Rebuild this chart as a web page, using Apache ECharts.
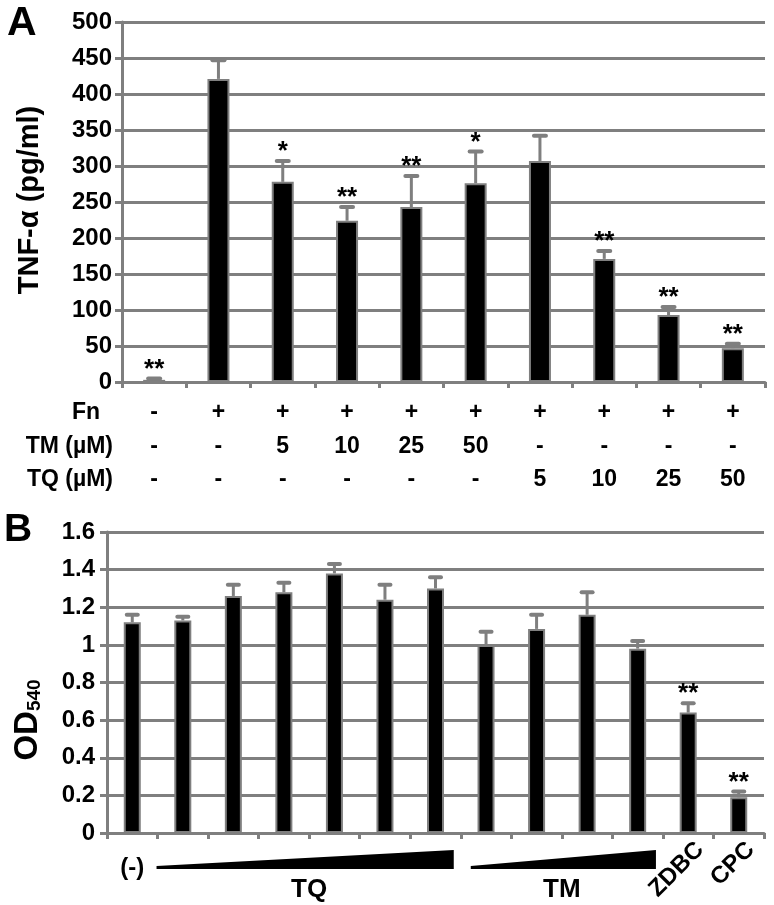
<!DOCTYPE html>
<html><head><meta charset="utf-8">
<script src="https://cdn.jsdelivr.net/npm/echarts/dist/echarts.min.js"></script>
<style>html,body{margin:0;padding:0;background:#fff}#c{width:774px;height:905px}</style>
</head><body><div id="c"></div>
<script>
// ---------- Panel A data ----------
const catsA = ['Control','Fn','Fn+TM5','Fn+TM10','Fn+TM25','Fn+TM50','Fn+TQ5','Fn+TQ10','Fn+TQ25','Fn+TQ50'];
const rowLabelsA = ['Fn','TM (µM)','TQ (µM)'];
const fnRow = ['-','+','+','+','+','+','+','+','+','+'];
const tmRow = ['-','-','5','10','25','50','-','-','-','-'];
const tqRow = ['-','-','-','-','-','-','5','10','25','50'];
const tnfMean = [3,421,278,224,243,276,307,171,93,47];
const tnfErr  = [2,26,29,19,43,44,35,11,11,6];
const tnfStars = ['**','','*','**','**','*','','**','**','**'];
const yAxisA = {min:0, max:500, interval:50, title:'TNF-α (pg/ml)'};

// ---------- Panel B data ----------
const catsB = ['(-)','TQ1','TQ2','TQ3','TQ4','TQ5','TQ6','TM1','TM2','TM3','TM4','ZDBC','CPC'];
const odMean = [1.12,1.13,1.26,1.28,1.38,1.24,1.30,1.00,1.085,1.16,0.98,0.64,0.19];
const odErr  = [0.04,0.02,0.06,0.05,0.05,0.08,0.06,0.07,0.075,0.12,0.04,0.05,0.03];
const odStars = ['','','','','','','','','','','','**','**'];
const groupsB = [{name:'TQ', from:1, to:6}, {name:'TM', from:7, to:10}];
const rotatedLabelsB = ['ZDBC','CPC'];
const yAxisB = {min:0, max:1.6, interval:0.2};

const GRAY = '#7f7f7f';
const FONT = '"Liberation Sans", Arial, sans-serif';

const chart = echarts.init(document.getElementById('c'), null, {renderer:'canvas'});

function errSeries(xi, yi, means, errs, stars, capW){
  return {
    type:'custom', xAxisIndex:xi, yAxisIndex:yi, z:5,
    data: means.map((m,i)=>[i, m, m+errs[i]]),
    renderItem:(params, api)=>{
      const b = api.coord([api.value(0), api.value(1)]);
      const t = api.coord([api.value(0), api.value(2)]);
      const ch = [
        {type:'line', shape:{x1:b[0],y1:b[1],x2:t[0],y2:t[1]}, style:{stroke:GRAY, lineWidth:3}},
        {type:'line', shape:{x1:t[0]-capW/2,y1:t[1],x2:t[0]+capW/2,y2:t[1]}, style:{stroke:GRAY, lineWidth:4, lineCap:'round'}}
      ];
      const s = stars[params.dataIndex];
      if (s) ch.push({type:'text', x:t[0], y:t[1]+4, style:{text:s, fill:'#000', font:'bold 26px '+FONT, align:'center', verticalAlign:'bottom'}});
      return {type:'group', children:ch};
    }
  };
}

const axisLine = ()=>({show:true, lineStyle:{color:GRAY, width:3}});
const option = {
  animation:false,
  backgroundColor:'#fff',
  textStyle:{fontFamily:FONT},
  grid:[
    {left:122, right:9, top:22, height:360, containLabel:false},
    {left:107, right:10, top:532, height:301, containLabel:false}
  ],
  xAxis:[
    {type:'category', gridIndex:0, data:catsA, boundaryGap:true,
     axisLine:axisLine(), axisTick:{show:true, interval:0, length:6, lineStyle:{color:GRAY, width:3}},
     axisLabel:{interval:0, margin:14, color:'#000', fontSize:23, fontWeight:'bold', lineHeight:33.5,
       formatter:(v,i)=>fnRow[i]+'\n'+tmRow[i]+'\n'+tqRow[i]}},
    {type:'category', gridIndex:1, data:catsB, boundaryGap:true,
     axisLine:axisLine(), axisTick:{show:true, interval:0, length:6, lineStyle:{color:GRAY, width:3}},
     axisLabel:{interval:0, margin:23, color:'#000', fontSize:24, fontWeight:'bold',
       formatter:(v,i)=> i===0 ? v : ''}}
  ],
  yAxis:[
    {type:'value', gridIndex:0, min:yAxisA.min, max:yAxisA.max, interval:yAxisA.interval,
     axisLine:axisLine(), axisTick:{show:true, length:7, lineStyle:{color:GRAY, width:3}},
     splitLine:{show:true, lineStyle:{color:GRAY, width:3, type:'solid'}},
     axisLabel:{margin:10, color:'#000', fontSize:24, fontWeight:'bold'}},
    {type:'value', gridIndex:1, min:yAxisB.min, max:yAxisB.max, interval:yAxisB.interval,
     axisLine:axisLine(), axisTick:{show:true, length:7, lineStyle:{color:GRAY, width:3}},
     splitLine:{show:true, lineStyle:{color:GRAY, width:3, type:'solid'}},
     axisLabel:{margin:12, color:'#000', fontSize:24, fontWeight:'bold'}}
  ],
  series:[
    {type:'bar', xAxisIndex:0, yAxisIndex:0, data:tnfMean, barWidth:22, z:2,
     itemStyle:{color:'#000', borderColor:GRAY, borderWidth:2}},
    errSeries(0,0,tnfMean,tnfErr,tnfStars,12),
    {type:'bar', xAxisIndex:1, yAxisIndex:1, data:odMean, barWidth:17, z:2,
     itemStyle:{color:'#000', borderColor:GRAY, borderWidth:2}},
    errSeries(1,1,odMean,odErr,odStars,11)
  ]
};
chart.setOption(option);

// ---------- annotations positioned through the axes ----------
function catCenter(ax, i){ return chart.convertToPixel({xAxisIndex:ax}, i); }
const g = [];
g.push({type:'text', x:7, y:3, style:{text:'A', font:'bold 41px '+FONT, fill:'#000'}});
g.push({type:'text', x:4, y:511, style:{text:'B', font:'bold 39px '+FONT, fill:'#000'}});
g.push({type:'text', x:30, y:200, rotation:Math.PI/2,
  style:{text:yAxisA.title, font:'bold 29px '+FONT, fill:'#000', align:'center', verticalAlign:'middle'}});
g.push({type:'text', x:28, y:720, rotation:Math.PI/2,
  style:{text:'{a|OD}{b|540}', align:'center', verticalAlign:'middle',
    rich:{a:{fontSize:33, fontWeight:'bold', fontFamily:FONT, color:'#000'},
          b:{fontSize:19, fontWeight:'bold', fontFamily:FONT, color:'#000', verticalAlign:'bottom', padding:[12,0,0,0]}}}});
// table row labels (panel A)
const rowY = [413, 446.5, 480];
const rowRight = [100, 113, 113];
rowLabelsA.forEach((t,i)=>g.push({type:'text', x:rowRight[i], y:rowY[i],
  style:{text:t, font:'bold 23px '+FONT, fill:'#000', align:'right', verticalAlign:'middle'}}));
// group wedges (panel B)
const bw = catCenter(1,1) - catCenter(1,0);
const wedgeInset = {TQ:[-1,7], TM:[10,7]};
groupsB.forEach(gr=>{
  const x0 = catCenter(1,gr.from) - bw/2 + wedgeInset[gr.name][0];
  const x1 = catCenter(1,gr.to) + bw/2 - wedgeInset[gr.name][1];
  g.push({type:'polygon', shape:{points:[[x0,866],[x1,850],[x1,869],[x0,869]]}, style:{fill:'#000'}});
  g.push({type:'text', x:(catCenter(1,gr.from)+catCenter(1,gr.to))/2, y:890,
    style:{text:gr.name, font:'bold 26px '+FONT, fill:'#000', align:'center', verticalAlign:'middle'}});
});
rotatedLabelsB.forEach(lbl=>{
  const i = catsB.indexOf(lbl);
  g.push({type:'text', x:catCenter(1,i)+12, y:846, rotation:Math.PI/4,
    style:{text:lbl, font:'bold 24px '+FONT, fill:'#000', align:'right', verticalAlign:'middle'}});
});
chart.setOption({graphic:{elements:g}});
</script></body></html>
